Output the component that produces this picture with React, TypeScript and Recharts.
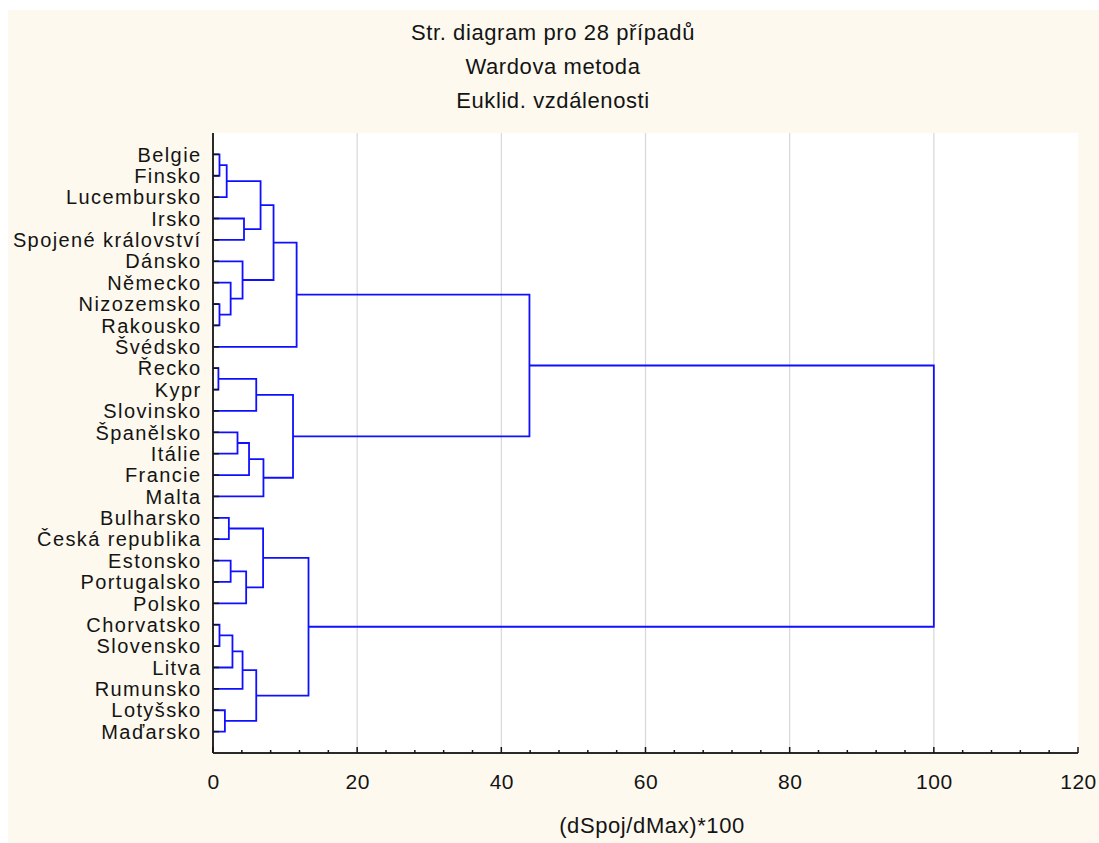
import { ComposedChart, Line, XAxis, YAxis, ReferenceLine } from 'recharts';

const titleLines = ['Str. diagram pro 28 případů', 'Wardova metoda', 'Euklid. vzdálenosti'];
const axisTitle = '(dSpoj/dMax)*100';

const countries = [
  'Belgie', 'Finsko', 'Lucembursko', 'Irsko', 'Spojené království', 'Dánsko', 'Německo',
  'Nizozemsko', 'Rakousko', 'Švédsko', 'Řecko', 'Kypr', 'Slovinsko', 'Španělsko', 'Itálie',
  'Francie', 'Malta', 'Bulharsko', 'Česká republika', 'Estonsko', 'Portugalsko', 'Polsko',
  'Chorvatsko', 'Slovensko', 'Litva', 'Rumunsko', 'Lotyšsko', 'Maďarsko',
];

// merge k joins nodes mergeLeft[k] and mergeRight[k]; ids < 28 are countries, id 28 + k is merge k
const mergeLeft = [0, 28, 3, 29, 7, 6, 5, 31, 35, 10, 37, 13, 39, 40, 38, 36, 17, 19, 45, 44, 22, 48, 49, 26, 50, 47, 43];
const mergeRight = [1, 2, 4, 30, 8, 32, 33, 34, 9, 11, 12, 14, 15, 16, 41, 42, 18, 20, 21, 46, 23, 24, 25, 27, 51, 52, 53];
const mergeHeight = [0.9, 1.9, 4.3, 6.6, 0.9, 2.45, 4.1, 8.4, 11.6, 0.75, 6.0, 3.4, 5.0, 7.0, 11.1, 43.9, 2.2, 2.45, 4.6, 6.95, 0.9, 2.7, 4.1, 1.65, 6.0, 13.25, 100];

const xLabels = [0, 20, 40, 60, 80, 100, 120];
const xTicks = [0, 4, 8, 12, 16, 20, 24, 28, 32, 36, 40, 44, 48, 52, 56, 60, 64, 68, 72, 76, 80, 84, 88, 92, 96, 100, 104, 108, 112, 116, 120];
const gridValues = [20, 40, 60, 80, 100];

// leaf slots 1..n, cluster drawn at the midpoint of its two children
const nodePos: number[] = countries.map((_, i) => i + 1);
const nodeHeight: number[] = countries.map(() => 0);
const links = mergeHeight.map((h, k) => {
  const a = mergeLeft[k];
  const b = mergeRight[k];
  const pts = [
    { x: nodeHeight[a], y: nodePos[a] },
    { x: h, y: nodePos[a] },
    { x: h, y: nodePos[b] },
    { x: nodeHeight[b], y: nodePos[b] },
  ];
  nodePos.push((nodePos[a] + nodePos[b]) / 2);
  nodeHeight.push(h);
  return pts;
});
const leafSlots = countries.map((_, i) => i + 1);

const FONT = '"Liberation Sans", Arial, sans-serif';
const INK = '#141414';
const BLUE = '#1010ff';

const LeftTick = (props: any) => {
  const { x, y, payload } = props;
  return (
    <g>
      <line x1={x} x2={x + 6} y1={y} y2={y} stroke={INK} strokeWidth={1.5} />
      <text x={x - 11.5} y={y} dy="0.36em" textAnchor="end" fontSize={20} letterSpacing={1.4} fontFamily={FONT} fill={INK}>
        {countries[payload.value - 1]}
      </text>
    </g>
  );
};

const RightTick = (props: any) => {
  const { x, y } = props;
  return <line x1={x - 6} x2={x} y1={y} y2={y} stroke={INK} strokeWidth={1.5} />;
};

const BottomTick = (props: any) => {
  const { x, y, payload } = props;
  const major = xLabels.includes(payload.value);
  return (
    <g>
      <line x1={x} x2={x} y1={y} y2={y - (major ? 6 : 3)} stroke={INK} strokeWidth={1.5} />
      {major && (
        <text x={x + 0.5} y={y + 28} dy="0.36em" textAnchor="middle" fontSize={21} letterSpacing={0.5} fontFamily={FONT} fill={INK}>
          {payload.value}
        </text>
      )}
    </g>
  );
};

const TopTick = (props: any) => {
  const { x, y, payload } = props;
  const major = xLabels.includes(payload.value);
  return <line x1={x} x2={x} y1={y} y2={y + (major ? 6 : 3)} stroke={INK} strokeWidth={1.5} />;
};

const textStyle = { position: 'absolute', left: 345, width: 400, transform: 'translateY(-50%)', textAlign: 'center', fontSize: 22, letterSpacing: 0.6, lineHeight: 1 } as const;

export default function App() {
  const frame = { stroke: '#2a2a2a', strokeWidth: 2 };
  return (
    <div style={{ paddingTop: 10, paddingLeft: 8, height: 833, background: '#ffffff' }}>
      <style>{'body { margin: 0; }'}</style>
      <div style={{ position: 'relative', width: 1091, height: 833, background: '#fdf9ee', fontFamily: FONT, color: INK }}>
        {titleLines.map((t, i) => (
          <div key={t} style={{ ...textStyle, top: 23 + i * 34 }}>
            {t}
          </div>
        ))}
        <div style={{ ...textStyle, left: 444, top: 816 }}>{axisTitle}</div>
        {/* white plot panel behind the svg */}
        <div style={{ position: 'absolute', left: 205, top: 123, width: 865, height: 620, background: '#ffffff' }} />
        <ComposedChart width={1091} height={833} margin={{ top: 123, right: 21, bottom: 30, left: 0 }} style={{ position: 'absolute', left: 0, top: 0 }}>
          <XAxis dataKey="x" type="number" domain={[0, 120]} ticks={xTicks} interval={0} allowDataOverflow height={60}
            tickSize={0} tickMargin={0} tickLine={false} axisLine={frame} tick={<BottomTick />} />
          <XAxis xAxisId="top" orientation="top" dataKey="x" type="number" domain={[0, 120]} ticks={xTicks} interval={0} height={0}
            tickSize={0} tickMargin={0} tickLine={false} axisLine={frame} tick={<TopTick />} />
          <YAxis dataKey="y" type="number" domain={[0, 29]} reversed ticks={leafSlots} interval={0} allowDataOverflow width={205}
            tickSize={0} tickMargin={0} tickLine={false} axisLine={frame} tick={<LeftTick />} />
          <YAxis yAxisId="right" orientation="right" type="number" domain={[0, 29]} reversed ticks={leafSlots} interval={0} width={0}
            tickSize={0} tickMargin={0} tickLine={false} axisLine={frame} tick={<RightTick />} />
          {gridValues.map((v) => (
            <ReferenceLine key={v} x={v} stroke="#d8d8d8" strokeWidth={1.2} />
          ))}
          {links.map((pts, k) => (
            <Line key={k} data={pts} dataKey="y" type="linear" stroke={BLUE} strokeWidth={1.8} dot={false} activeDot={false} isAnimationActive={false} />
          ))}
        </ComposedChart>
      </div>
    </div>
  );
}
